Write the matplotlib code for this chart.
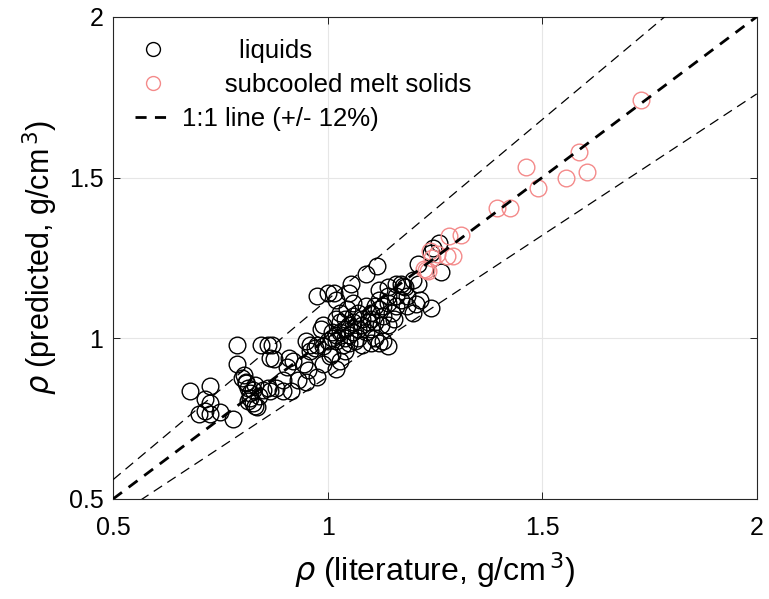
import numpy as np
import matplotlib
matplotlib.use('Agg')
import matplotlib.pyplot as plt
from matplotlib.lines import Line2D

plt.rcParams['font.family'] = ['Liberation Sans', 'DejaVu Sans']
plt.rcParams['mathtext.fontset'] = 'dejavusans'

# liquids: literature vs predicted density (g/cm3)
liq_lit = [0.68, 0.725, 0.715, 0.725, 0.70, 0.725, 0.75, 0.78, 0.715,
           0.79, 0.79, 0.805, 0.81, 0.815, 0.82, 0.82, 0.825, 0.81, 0.835, 0.80, 0.83, 0.825, 0.815, 0.84, 0.83,
           0.845, 0.86, 0.87, 0.865, 0.875, 0.91, 0.92, 0.945, 0.85, 0.865, 0.895, 0.895, 0.915, 0.95, 0.975,
           0.96, 0.975, 0.99, 0.975, 1.0, 0.99, 0.86, 0.88,
           1.0, 1.01, 1.02, 1.03, 1.04, 1.05, 1.02, 1.04, 1.05, 1.06, 1.03, 1.04, 1.06, 1.07, 1.08, 1.01,
           1.035, 1.05, 1.07, 1.06, 1.045, 1.02, 1.03, 1.07, 1.08, 1.09, 1.06, 1.02, 1.05, 0.985, 0.97, 0.96,
           1.01, 1.03, 1.02, 0.95, 1.005, 1.04,
           1.10, 1.11, 1.12, 1.13, 1.14, 1.12, 1.10, 1.11, 1.13, 1.15, 1.14, 1.09, 1.16, 1.12, 1.14, 1.16,
           1.185, 1.21, 1.205, 1.215, 1.24, 1.20, 1.17, 1.21, 1.265, 1.24, 1.26, 1.245, 1.115, 1.09, 1.055,
           1.015, 1.08, 1.13, 1.14, 1.12, 1.10, 1.11, 1.14, 1.10, 1.185, 1.17, 1.20, 1.18, 1.176, 1.16,
           0.93, 0.905, 0.955, 0.99, 1.065, 1.095, 1.125, 1.155]
liq_pred = [0.835, 0.85, 0.81, 0.80, 0.765, 0.765, 0.77, 0.75, 0.775,
            0.98, 0.92, 0.885, 0.865, 0.845, 0.83, 0.815, 0.80, 0.86, 0.785, 0.875, 0.855, 0.84, 0.805, 0.82, 0.79,
            0.98, 0.98, 0.98, 0.94, 0.935, 0.94, 0.93, 0.92, 0.84, 0.835, 0.87, 0.835, 0.835, 0.865, 0.88,
            0.98, 0.98, 0.975, 1.13, 1.14, 1.04, 0.845, 0.845,
            0.99, 1.0, 1.01, 1.02, 1.03, 1.04, 0.99, 1.0, 1.01, 1.02, 1.05, 1.06, 1.05, 1.03, 1.04, 1.02,
            0.98, 0.985, 1.0, 1.07, 1.09, 1.06, 1.08, 1.08, 1.06, 1.02, 1.11, 1.12, 1.14, 1.03, 0.97, 0.96,
            0.95, 0.93, 0.905, 0.99, 0.945, 0.96,
            1.08, 1.10, 1.09, 1.10, 1.11, 1.12, 1.06, 1.05, 1.07, 1.08, 1.13, 1.10, 1.10, 1.15, 1.16, 1.17,
            1.13, 1.17, 1.105, 1.12, 1.095, 1.08, 1.17, 1.23, 1.205, 1.265, 1.295, 1.28, 1.225, 1.20, 1.17,
            1.14, 0.98, 0.99, 0.975, 0.985, 0.985, 1.0, 1.04, 1.03, 1.10, 1.12, 1.18, 1.16, 1.163, 1.13,
            0.87, 0.91, 0.90, 0.92, 0.99, 1.05, 1.04, 1.06]

# subcooled melt solids
sol_lit = [1.73, 1.585, 1.463, 1.555, 1.605, 1.49, 1.395, 1.425, 1.31, 1.283,
           1.293, 1.279, 1.255, 1.239, 1.225, 1.23, 1.235, 1.243]
sol_pred = [1.74, 1.578, 1.534, 1.50, 1.516, 1.467, 1.406, 1.406, 1.322, 1.318,
            1.256, 1.256, 1.262, 1.272, 1.216, 1.212, 1.21, 1.25]

line_x = [0.5, 2.0]
tol = 0.12

red = '#f48a8a'

fig = plt.figure(figsize=(7.69, 5.99), dpi=100)
ax = fig.add_axes([0.147, 0.167, 0.837, 0.805])

ax.plot(liq_lit, liq_pred, 'o', mfc='none', mec='k', ms=12, mew=1.0, zorder=3)
ax.plot(sol_lit, sol_pred, 'o', mfc='none', mec=red, ms=12, mew=1.0, zorder=3)
lx = np.array(line_x)
ax.plot(lx, lx, '--', color='k', lw=2.0, dashes=(4, 3), zorder=4)
ax.plot(lx, lx * (1 + tol), '--', color='k', lw=0.9, dashes=(8, 5), zorder=4)
ax.plot(lx, lx * (1 - tol), '--', color='k', lw=0.9, dashes=(8, 5), zorder=4)

ax.set_xlim(0.5, 2)
ax.set_ylim(0.5, 2)
ax.set_xticks([0.5, 1, 1.5, 2])
ax.set_yticks([0.5, 1, 1.5, 2])
ax.set_xticklabels(['0.5', '1', '1.5', '2'])
ax.set_yticklabels(['0.5', '1', '1.5', '2'])
ax.grid(True, color='#e6e6e6', lw=0.8)
ax.set_axisbelow(True)
ax.tick_params(direction='in', top=True, right=True, labelsize=18, length=5, width=0.6)
ax.tick_params(axis='x', pad=12)
ax.tick_params(axis='y', pad=7)
for s in ax.spines.values():
    s.set_linewidth(0.8)
    s.set_color('#262626')

ax.set_xlabel(r'$\rho$ (literature, g/cm$^{\,3}$)', fontsize=23, labelpad=8)
ax.set_ylabel(r'$\rho$ (predicted, g/cm$^{\,3}$)', fontsize=22, labelpad=6)

handles = [Line2D([], [], ls='none', marker='o', mfc='none', mec='k', ms=10, mew=1.0),
           Line2D([], [], ls='none', marker='o', mfc='none', mec=red, ms=10, mew=1.0),
           Line2D([], [], ls='--', color='k', lw=2.0, dashes=(4, 3))]
labels = ['        liquids', '      subcooled melt solids', '1:1 line (+/- 12%)']
ax.legend(handles, labels, loc='upper left', frameon=False, fontsize=18.5,
          handlelength=1.4, handletextpad=0.45, labelspacing=0.4,
          borderaxespad=0.45, bbox_to_anchor=(0.0, 1.0))

fig.savefig('out.png', dpi=100)
